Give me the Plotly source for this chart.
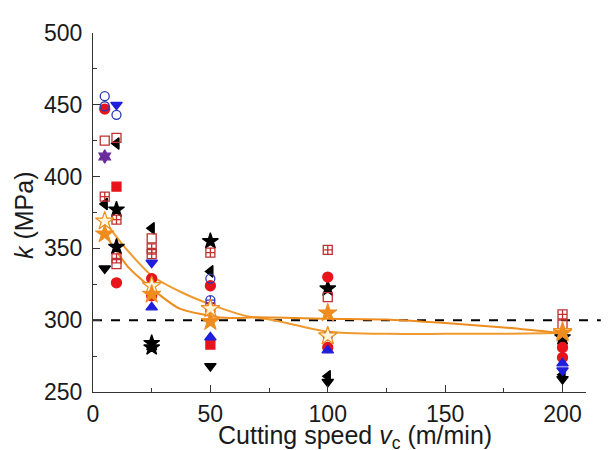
import plotly.graph_objects as go

# ---- data ----
open_circle_blue_x = [5, 5, 10, 50]
open_circle_blue_y = [456, 449, 443, 329]

filled_circle_red_x = [5, 10, 25, 25, 50, 100, 100, 200, 200]
filled_circle_red_y = [447, 326, 329, 317, 324, 330, 281, 281, 274]

down_tri_blue_x = [10, 25, 200]
down_tri_blue_y = [450, 340, 265]

open_square_red_x = [5, 10, 10, 25, 50, 100, 200]
open_square_red_y = [425, 427, 339, 357, 309, 316, 297]

filled_square_red_x = [10, 50]
filled_square_red_y = [393, 283]

cross_square_red_x = [5, 10, 10, 25, 25, 50, 100, 200]
cross_square_red_y = [386, 370, 343, 350, 346, 347, 349, 304]

left_tri_black_x = [5, 10, 25, 50, 100, 200]
left_tri_black_y = [381, 423, 364, 334, 261, 262]

star_black_x = [10, 10, 25, 25, 50, 100, 200]
star_black_y = [377, 351, 284, 281, 355, 322, 288]

down_tri_black_x = [5, 50, 100, 200]
down_tri_black_y = [336, 268, 257, 259]

up_tri_blue_x = [25, 50, 100, 200]
up_tri_blue_y = [309, 288, 279, 270]

hexagram_purple_x = [5]
hexagram_purple_y = [414]

circle_cross_blue_x = [50, 100]
circle_cross_blue_y = [314, 289]

open_star_x = [5, 25, 50, 100, 200]
open_star_y = [369, 324, 308, 289, 292]

filled_star_x = [5, 25, 50, 100, 200]
filled_star_y = [360, 318, 299, 305, 291]

# fitted curves
fit_open_x = [5, 10, 15, 25, 37, 50, 65, 77, 100, 125, 150, 175, 200]
fit_open_y = [369, 358, 348, 331, 320, 311, 303, 300, 292, 290.5, 290.5, 290.5, 291]

fit_filled_x = [5, 10, 15, 25, 37, 50, 58, 70, 100, 125, 150, 175, 200]
fit_filled_y = [360, 348, 337, 322, 308, 303, 301.5, 302, 301, 300.5, 298, 295, 291]

x_ticks = [0, 50, 100, 150, 200]
y_ticks = [250, 300, 350, 400, 450, 500]
ref_level = 300

# ---- styles ----
RED = "#E8141B"
DRED = "#C03030"
BLUE = "#1E1EDC"
ORANGE = "#EE8C1E"
BLACK = "#000000"

fig = go.Figure()

# fit lines
fig.add_trace(go.Scatter(x=fit_open_x, y=fit_open_y, mode="lines",
                         line=dict(color="#F09A30", width=2, shape="spline", smoothing=0.6),
                         showlegend=False, hoverinfo="skip"))
fig.add_trace(go.Scatter(x=fit_filled_x, y=fit_filled_y, mode="lines",
                         line=dict(color=ORANGE, width=2, shape="spline", smoothing=0.6),
                         showlegend=False, hoverinfo="skip"))


def add(xs, ys, symbol, color, fill=None, size=10, lw=1.3):
    fig.add_trace(go.Scatter(
        x=xs, y=ys, mode="markers", showlegend=False,
        marker=dict(symbol=symbol, size=size,
                    color=fill if fill is not None else color,
                    line=dict(color=color, width=lw)),
        cliponaxis=False))


add(down_tri_black_x, down_tri_black_y, "triangle-down", BLACK)
add(left_tri_black_x, left_tri_black_y, "triangle-left", BLACK)
add(star_black_x, star_black_y, "star", BLACK, size=12)
add(open_square_red_x, open_square_red_y, "square-open", DRED, size=9)
add(cross_square_red_x, cross_square_red_y, "square-cross-open", DRED, size=9)
add(filled_square_red_x, filled_square_red_y, "square", RED, size=9)
add(filled_circle_red_x, filled_circle_red_y, "circle", RED)
add(down_tri_blue_x, down_tri_blue_y, "triangle-down", BLUE)
add(up_tri_blue_x, up_tri_blue_y, "triangle-up", BLUE)
add(open_circle_blue_x, open_circle_blue_y, "circle-open", "#2A3AB8", size=9)
add(circle_cross_blue_x, circle_cross_blue_y, "circle-cross-open", "#2A3AB8", size=9)
add(hexagram_purple_x, hexagram_purple_y, "hexagram", "#6A2A9A", size=10)
add(open_star_x, open_star_y, "star", ORANGE, fill="#FFF6DC", size=14, lw=1.2)
add(filled_star_x, filled_star_y, "star", ORANGE, size=14, lw=1)

# dashed reference line extending past the axis end
fig.add_shape(type="line", xref="paper", yref="y", x0=0, x1=1.03,
              y0=ref_level, y1=ref_level,
              line=dict(color=BLACK, width=2, dash="dash"), layer="below")

FONT = "Liberation Sans, Arial"
axis_common = dict(showline=True, linecolor="#333333", linewidth=1,
                   ticks="inside", ticklen=7, tickcolor="#333333",
                   showgrid=False, zeroline=False,
                   tickfont=dict(family=FONT, size=23, color="#1a1a1a"))

# page body has an 8px default margin; figure is offset accordingly
fig.update_layout(
    width=593, height=442,
    margin=dict(l=85, r=15, t=19, b=58),
    plot_bgcolor="white", paper_bgcolor="white",
    xaxis=dict(range=[0, 210], tickvals=x_ticks,
               minor=dict(ticks="inside", dtick=25, ticklen=4, tickcolor="#333333"),
               ticklabelstandoff=1, **axis_common),
    yaxis=dict(range=[250, 500], tickvals=y_ticks,
               minor=dict(ticks="inside", dtick=25, ticklen=4, tickcolor="#333333"),
               ticklabelstandoff=5, **axis_common),
    annotations=[
        dict(text="<i>k</i> (MPa)", xref="paper", yref="paper",
             x=-0.14, y=0.493, xanchor="center", yanchor="middle",
             textangle=-90, showarrow=False,
             font=dict(family=FONT, size=25, color="#1a1a1a")),
        dict(text="Cutting speed <i>v</i><sub>c</sub> (m/min)", xref="paper", yref="paper",
             x=0.531, y=-0.126, xanchor="center", yanchor="middle",
             showarrow=False,
             font=dict(family=FONT, size=25, color="#1a1a1a")),
    ],
)

fig.write_html("out.html")
